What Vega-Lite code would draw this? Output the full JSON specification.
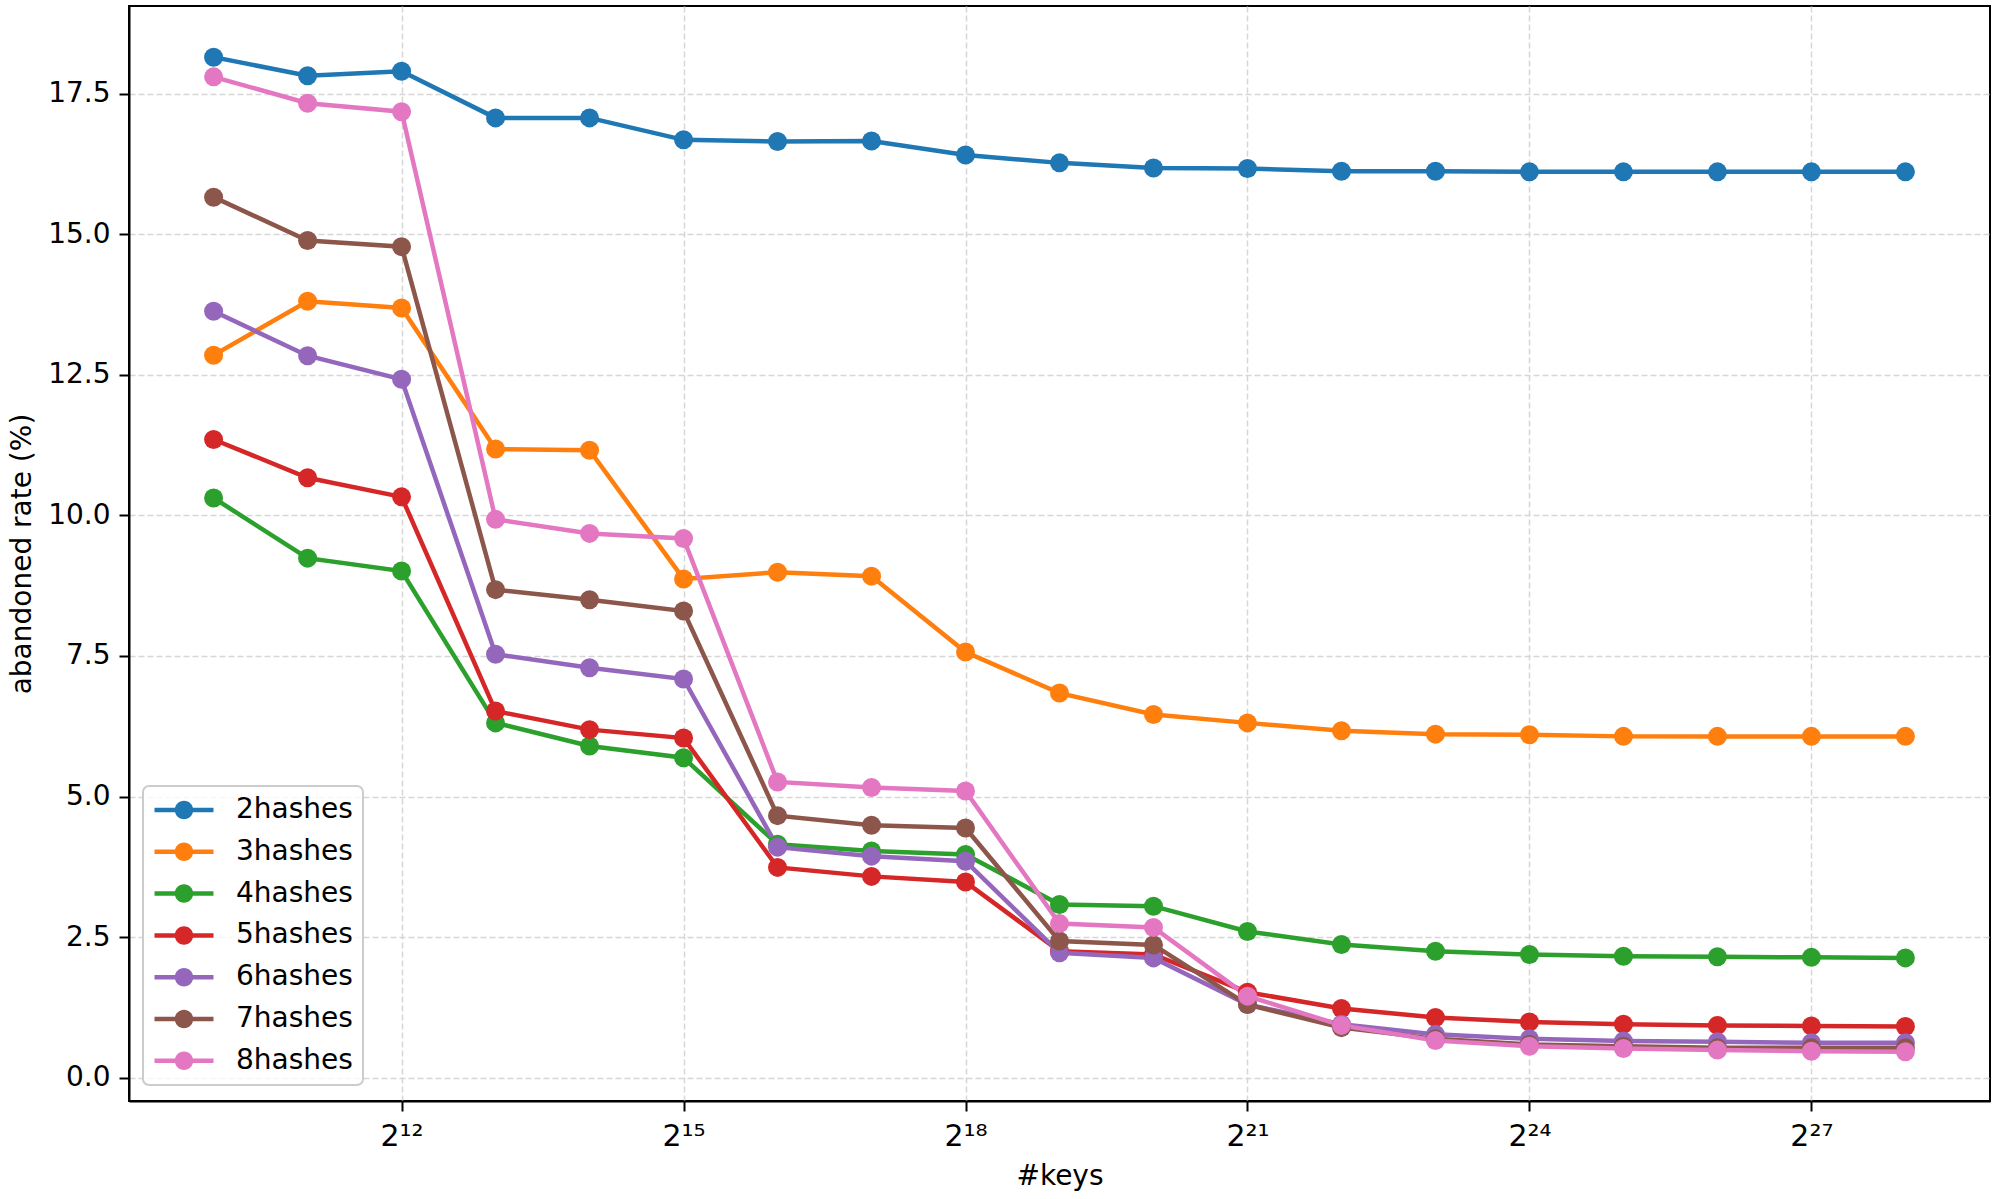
{
  "$schema": "https://vega.github.io/schema/vega-lite/v6.json",
  "width": 1861,
  "height": 1095,
  "autosize": {"type": "none"},
  "padding": {"left": 129, "top": 6, "right": 9, "bottom": 98},
  "background": "white",
  "config": {
    "font": "DejaVu Sans",
    "view": {"stroke": "black", "strokeWidth": 2},
    "legend": {"strokeWidth": 2},
    "axis": {
      "labelFontSize": 28, "titleFontSize": 28, "titleFontWeight": "normal",
      "labelColor": "black", "titleColor": "black",
      "tickColor": "black", "tickWidth": 2, "tickSize": 10,
      "domainColor": "black", "domainWidth": 2,
      "gridColor": "#d6d6d6", "gridWidth": 1.5, "gridDash": [6, 3]
    }
  },
  "data": {"values": [
    {"keys":1024,"series":"2hashes","rate":18.15},{"keys":2048,"series":"2hashes","rate":17.82},{"keys":4096,"series":"2hashes","rate":17.90},{"keys":8192,"series":"2hashes","rate":17.07},{"keys":16384,"series":"2hashes","rate":17.07},{"keys":32768,"series":"2hashes","rate":16.68},{"keys":65536,"series":"2hashes","rate":16.65},{"keys":131072,"series":"2hashes","rate":16.66},{"keys":262144,"series":"2hashes","rate":16.41},{"keys":524288,"series":"2hashes","rate":16.27},{"keys":1048576,"series":"2hashes","rate":16.18},{"keys":2097152,"series":"2hashes","rate":16.17},{"keys":4194304,"series":"2hashes","rate":16.12},{"keys":8388608,"series":"2hashes","rate":16.12},{"keys":16777216,"series":"2hashes","rate":16.11},{"keys":33554432,"series":"2hashes","rate":16.11},{"keys":67108864,"series":"2hashes","rate":16.11},{"keys":134217728,"series":"2hashes","rate":16.11},{"keys":268435456,"series":"2hashes","rate":16.11},
    {"keys":1024,"series":"3hashes","rate":12.85},{"keys":2048,"series":"3hashes","rate":13.81},{"keys":4096,"series":"3hashes","rate":13.69},{"keys":8192,"series":"3hashes","rate":11.18},{"keys":16384,"series":"3hashes","rate":11.16},{"keys":32768,"series":"3hashes","rate":8.87},{"keys":65536,"series":"3hashes","rate":8.99},{"keys":131072,"series":"3hashes","rate":8.92},{"keys":262144,"series":"3hashes","rate":7.57},{"keys":524288,"series":"3hashes","rate":6.84},{"keys":1048576,"series":"3hashes","rate":6.46},{"keys":2097152,"series":"3hashes","rate":6.31},{"keys":4194304,"series":"3hashes","rate":6.17},{"keys":8388608,"series":"3hashes","rate":6.11},{"keys":16777216,"series":"3hashes","rate":6.10},{"keys":33554432,"series":"3hashes","rate":6.07},{"keys":67108864,"series":"3hashes","rate":6.07},{"keys":134217728,"series":"3hashes","rate":6.07},{"keys":268435456,"series":"3hashes","rate":6.07},
    {"keys":1024,"series":"4hashes","rate":10.31},{"keys":2048,"series":"4hashes","rate":9.24},{"keys":4096,"series":"4hashes","rate":9.01},{"keys":8192,"series":"4hashes","rate":6.31},{"keys":16384,"series":"4hashes","rate":5.90},{"keys":32768,"series":"4hashes","rate":5.69},{"keys":65536,"series":"4hashes","rate":4.15},{"keys":131072,"series":"4hashes","rate":4.03},{"keys":262144,"series":"4hashes","rate":3.97},{"keys":524288,"series":"4hashes","rate":3.08},{"keys":1048576,"series":"4hashes","rate":3.05},{"keys":2097152,"series":"4hashes","rate":2.60},{"keys":4194304,"series":"4hashes","rate":2.37},{"keys":8388608,"series":"4hashes","rate":2.25},{"keys":16777216,"series":"4hashes","rate":2.19},{"keys":33554432,"series":"4hashes","rate":2.16},{"keys":67108864,"series":"4hashes","rate":2.15},{"keys":134217728,"series":"4hashes","rate":2.14},{"keys":268435456,"series":"4hashes","rate":2.13},
    {"keys":1024,"series":"5hashes","rate":11.35},{"keys":2048,"series":"5hashes","rate":10.67},{"keys":4096,"series":"5hashes","rate":10.33},{"keys":8192,"series":"5hashes","rate":6.52},{"keys":16384,"series":"5hashes","rate":6.19},{"keys":32768,"series":"5hashes","rate":6.04},{"keys":65536,"series":"5hashes","rate":3.74},{"keys":131072,"series":"5hashes","rate":3.58},{"keys":262144,"series":"5hashes","rate":3.48},{"keys":524288,"series":"5hashes","rate":2.25},{"keys":1048576,"series":"5hashes","rate":2.19},{"keys":2097152,"series":"5hashes","rate":1.52},{"keys":4194304,"series":"5hashes","rate":1.23},{"keys":8388608,"series":"5hashes","rate":1.07},{"keys":16777216,"series":"5hashes","rate":0.99},{"keys":33554432,"series":"5hashes","rate":0.95},{"keys":67108864,"series":"5hashes","rate":0.93},{"keys":134217728,"series":"5hashes","rate":0.92},{"keys":268435456,"series":"5hashes","rate":0.91},
    {"keys":1024,"series":"6hashes","rate":13.63},{"keys":2048,"series":"6hashes","rate":12.84},{"keys":4096,"series":"6hashes","rate":12.42},{"keys":8192,"series":"6hashes","rate":7.53},{"keys":16384,"series":"6hashes","rate":7.29},{"keys":32768,"series":"6hashes","rate":7.09},{"keys":65536,"series":"6hashes","rate":4.10},{"keys":131072,"series":"6hashes","rate":3.94},{"keys":262144,"series":"6hashes","rate":3.85},{"keys":524288,"series":"6hashes","rate":2.22},{"keys":1048576,"series":"6hashes","rate":2.13},{"keys":2097152,"series":"6hashes","rate":1.30},{"keys":4194304,"series":"6hashes","rate":0.95},{"keys":8388608,"series":"6hashes","rate":0.77},{"keys":16777216,"series":"6hashes","rate":0.69},{"keys":33554432,"series":"6hashes","rate":0.65},{"keys":67108864,"series":"6hashes","rate":0.64},{"keys":134217728,"series":"6hashes","rate":0.62},{"keys":268435456,"series":"6hashes","rate":0.62},
    {"keys":1024,"series":"7hashes","rate":15.66},{"keys":2048,"series":"7hashes","rate":14.89},{"keys":4096,"series":"7hashes","rate":14.78},{"keys":8192,"series":"7hashes","rate":8.68},{"keys":16384,"series":"7hashes","rate":8.50},{"keys":32768,"series":"7hashes","rate":8.30},{"keys":65536,"series":"7hashes","rate":4.66},{"keys":131072,"series":"7hashes","rate":4.49},{"keys":262144,"series":"7hashes","rate":4.44},{"keys":524288,"series":"7hashes","rate":2.43},{"keys":1048576,"series":"7hashes","rate":2.36},{"keys":2097152,"series":"7hashes","rate":1.30},{"keys":4194304,"series":"7hashes","rate":0.89},{"keys":8388608,"series":"7hashes","rate":0.69},{"keys":16777216,"series":"7hashes","rate":0.59},{"keys":33554432,"series":"7hashes","rate":0.56},{"keys":67108864,"series":"7hashes","rate":0.53},{"keys":134217728,"series":"7hashes","rate":0.53},{"keys":268435456,"series":"7hashes","rate":0.53},
    {"keys":1024,"series":"8hashes","rate":17.80},{"keys":2048,"series":"8hashes","rate":17.33},{"keys":4096,"series":"8hashes","rate":17.18},{"keys":8192,"series":"8hashes","rate":9.93},{"keys":16384,"series":"8hashes","rate":9.68},{"keys":32768,"series":"8hashes","rate":9.59},{"keys":65536,"series":"8hashes","rate":5.26},{"keys":131072,"series":"8hashes","rate":5.16},{"keys":262144,"series":"8hashes","rate":5.10},{"keys":524288,"series":"8hashes","rate":2.74},{"keys":1048576,"series":"8hashes","rate":2.67},{"keys":2097152,"series":"8hashes","rate":1.45},{"keys":4194304,"series":"8hashes","rate":0.93},{"keys":8388608,"series":"8hashes","rate":0.66},{"keys":16777216,"series":"8hashes","rate":0.56},{"keys":33554432,"series":"8hashes","rate":0.52},{"keys":67108864,"series":"8hashes","rate":0.49},{"keys":134217728,"series":"8hashes","rate":0.47},{"keys":268435456,"series":"8hashes","rate":0.46}
  ]},
  "encoding": {
    "x": {
      "field": "keys", "type": "quantitative",
      "scale": {"type": "log", "base": 2, "domain": [548.75, 500918490], "nice": false},
      "axis": {
        "title": "#keys",
        "values": [4096, 32768, 262144, 2097152, 16777216, 134217728],
        "labelExpr": "'2' + substring('⁰¹²³⁴⁵⁶⁷⁸⁹', floor(round(log(datum.value)/LN2)/10), floor(round(log(datum.value)/LN2)/10)+1) + substring('⁰¹²³⁴⁵⁶⁷⁸⁹', round(log(datum.value)/LN2)%10, round(log(datum.value)/LN2)%10+1)",
        "labelBaseline": "alphabetic",
        "labelPadding": 34,
        "labelFontSize": 30,
        "labelFlush": false,
        "titleBaseline": "alphabetic",
        "titleY": 83
      }
    },
    "y": {
      "field": "rate", "type": "quantitative",
      "scale": {"domain": [-0.415, 19.06], "nice": false, "zero": false},
      "axis": {
        "title": "abandoned rate (%)",
        "values": [0, 2.5, 5, 7.5, 10, 12.5, 15, 17.5],
        "format": ".1f",
        "labelPadding": 9,
        "labelFlush": false,
        "titleX": -107,
        "titleY": 547.5,
        "titleAlign": "center",
        "titleBaseline": "middle",
        "titleAngle": -90
      }
    },
    "color": {
      "field": "series", "type": "nominal",
      "scale": {
        "domain": ["2hashes","3hashes","4hashes","5hashes","6hashes","7hashes","8hashes"],
        "range": ["#1f77b4","#ff7f0e","#2ca02c","#d62728","#9467bd","#8c564b","#e377c2"]
      },
      "legend": {
        "title": null,
        "orient": "none",
        "legendX": 14,
        "legendY": 780,
        "symbolType": "M-4.214,-0.32H4.214V0.32H-4.214Z M1.32,0A1.32,1.32 0 1,1 -1.32,0A1.32,1.32 0 1,1 1.32,0Z",
        "symbolSize": 196,
        "symbolStrokeWidth": 0,
        "symbolOpacity": 1,
        "symbolOffset": 17,
        "labelOffset": 38,
        "labelFontSize": 28,
        "labelColor": "black",
        "rowPadding": 13.8,
        "padding": 10,
        "fillColor": "rgba(255,255,255,0.8)",
        "strokeColor": "#cccccc",
        "cornerRadius": 6
      }
    }
  },
  "layer": [
    {"mark": {"type": "line", "strokeWidth": 4.5}},
    {"mark": {"type": "point", "filled": true, "opacity": 1, "size": 361, "shape": "circle"}}
  ]
}
